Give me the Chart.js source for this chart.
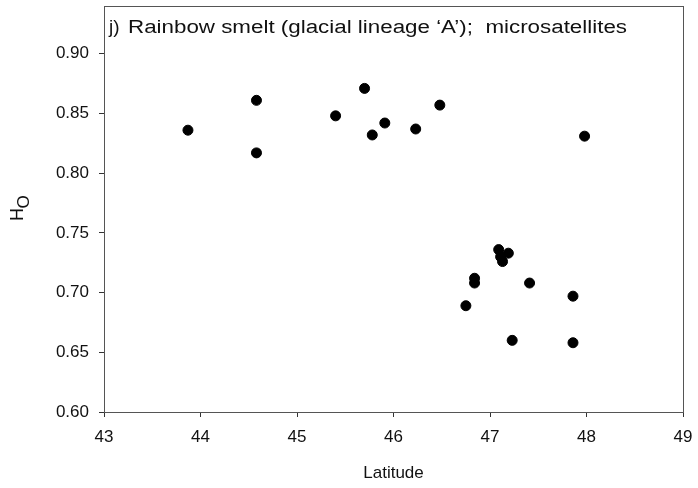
<!DOCTYPE html>
<html>
<head>
<meta charset="utf-8">
<script src="https://cdn.jsdelivr.net/npm/chart.js@4"></script>
<style>
  html, body { margin: 0; padding: 0; background: #fff; }
  #wrap { width: 698px; height: 488px; }
</style>
</head>
<body>
<div id="wrap"><canvas id="myChart"></canvas></div>
<script>
const latitude = [43.87, 44.58, 44.58, 45.40, 45.70, 45.78, 45.91, 46.23, 46.48, 47.98,
                  47.09, 47.19, 47.11, 47.13, 46.84, 46.84, 47.41, 47.86, 46.75, 47.23, 47.86];
const hetObs = [0.836, 0.861, 0.817, 0.848, 0.871, 0.832, 0.842, 0.837, 0.857, 0.831,
                0.736, 0.733, 0.730, 0.726, 0.712, 0.708, 0.708, 0.697, 0.689, 0.660, 0.658];
const xTicks = [43, 44, 45, 46, 47, 48, 49];
const yTicks = [0.60, 0.65, 0.70, 0.75, 0.80, 0.85, 0.90];
const panelTitle = "Rainbow smelt (glacial lineage \u2018A\u2019);  microsatellites";

const font = "'Liberation Sans', Arial, sans-serif";

// frame + labels drawn on top of the chart
const extras = {
  id: 'extras',
  afterDraw(chart) {
    const c = chart.ctx, a = chart.chartArea;
    c.save();
    c.strokeStyle = '#555';
    c.lineWidth = 1;
    c.strokeRect(a.left + 0.5, a.top + 0.5, a.right - a.left, a.bottom - a.top);

    c.fillStyle = '#111';
    c.textBaseline = 'alphabetic';
    c.textAlign = 'left';
    c.font = '19px ' + font;
    c.fillText('j)', 109, 33);
    // the original text is wider than Liberation Sans, stretch it to fit
    c.font = '18px ' + font;
    const w = c.measureText(panelTitle).width;
    c.save();
    c.translate(128, 33);
    c.scale(499 / w, 1);
    c.fillText(panelTitle, 0, 0);
    c.restore();

    // y axis title: H with (offset) O
    c.translate(23, 221);
    c.rotate(-Math.PI / 2);
    c.font = '18px ' + font;
    c.fillText('H', 0, 0);
    c.font = '17px ' + font;
    c.fillText('O', 12.5, 6);
    c.restore();
  }
};

const ctx = document.getElementById('myChart').getContext('2d');
const myChart = new Chart(ctx, {
  type: 'scatter',
  data: {
    datasets: [{
      data: latitude.map((x, i) => ({ x: x, y: hetObs[i] })),
      backgroundColor: '#000',
      borderColor: '#000',
      pointRadius: 5,
      pointHoverRadius: 5
    }]
  },
  options: {
    responsive: true,
    maintainAspectRatio: false,
    animation: false,
    layout: { padding: { top: 6, right: 15, left: 0, bottom: 0 } },
    plugins: {
      legend: { display: false },
      tooltip: { enabled: false }
    },
    scales: {
      x: {
        type: 'linear',
        min: 43, max: 49,
        afterBuildTicks: axis => { axis.ticks = xTicks.map(v => ({ value: v })); },
        afterFit: axis => { axis.height = 76; axis.paddingLeft = 0; axis.paddingRight = 0; },
        grid: { drawOnChartArea: false, drawTicks: true, tickLength: 5, color: '#333' },
        border: { color: '#555' },
        ticks: { color: '#111', font: { family: font, size: 17 }, padding: 10, maxRotation: 0 },
        title: { display: true, text: 'Latitude', color: '#111', font: { family: font, size: 17 }, padding: { top: 9 } }
      },
      y: {
        type: 'linear',
        min: 0.60, max: 0.94,
        afterBuildTicks: axis => { axis.ticks = yTicks.map(v => ({ value: v })); },
        afterFit: axis => { axis.width = 104; axis.paddingTop = 0; axis.paddingBottom = 0; },
        grid: { drawOnChartArea: false, drawTicks: true, tickLength: 5, color: '#333' },
        border: { color: '#555' },
        ticks: { color: '#111', font: { family: font, size: 17 }, padding: 10, callback: v => v.toFixed(2) }
      }
    }
  },
  plugins: [extras]
});
</script>
</body>
</html>
